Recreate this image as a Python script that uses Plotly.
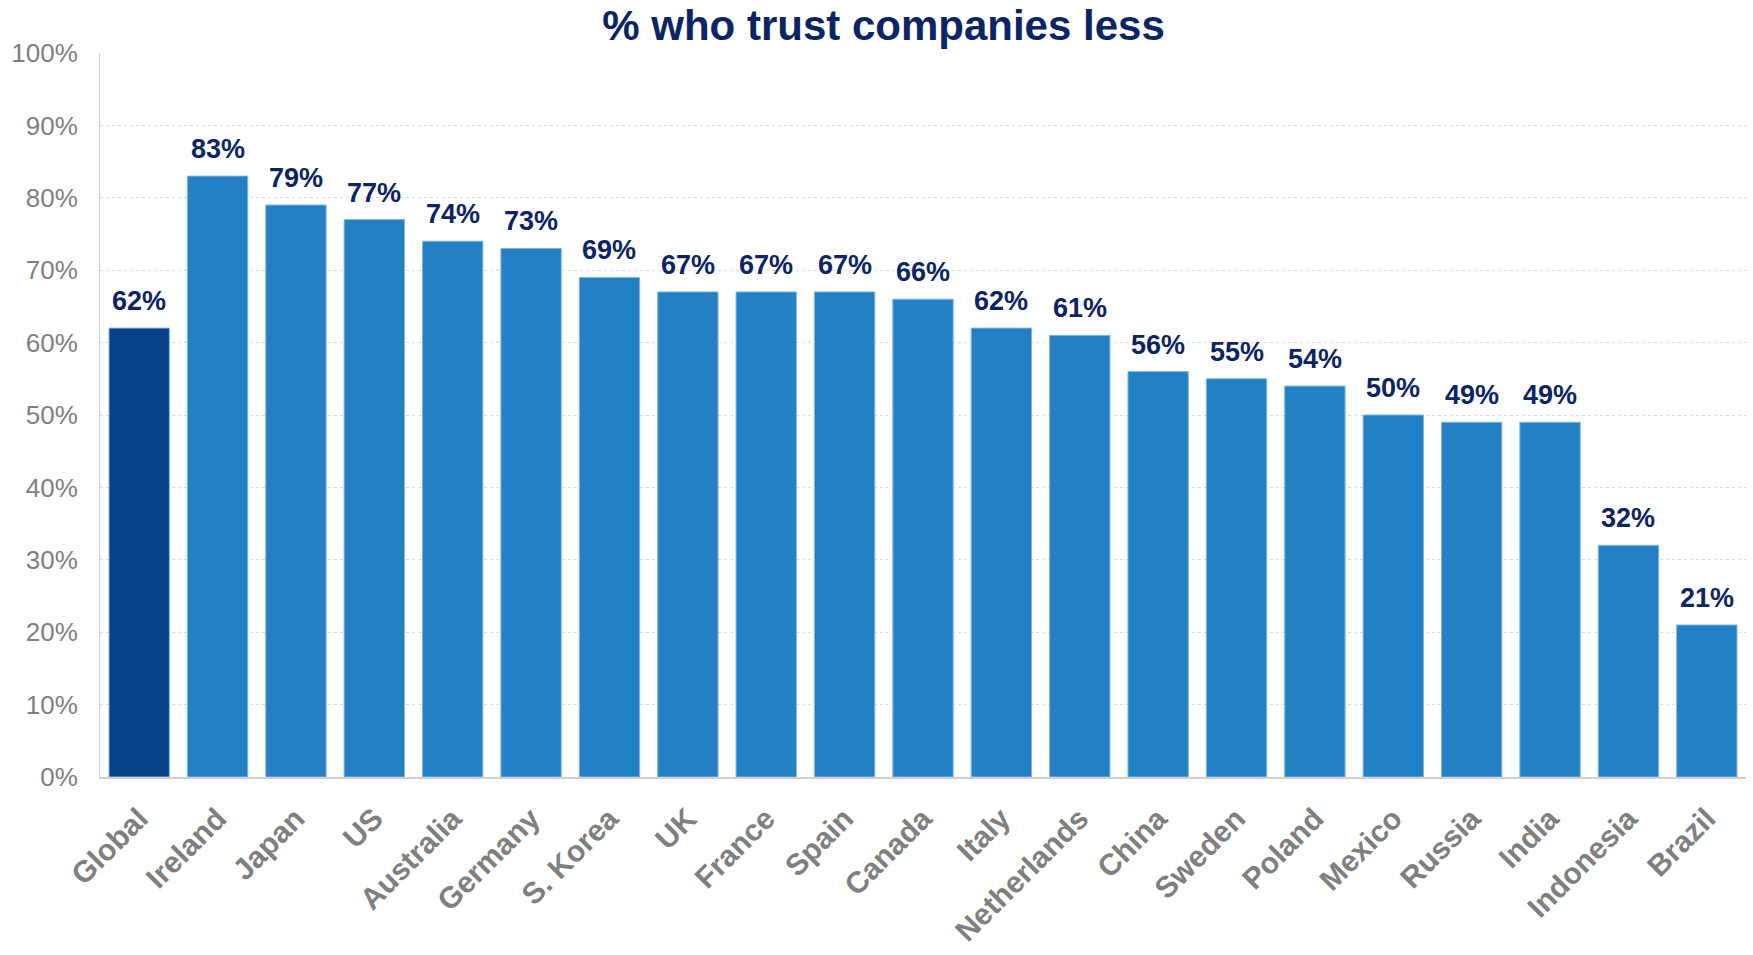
import plotly.graph_objects as go

countries = ["Global", "Ireland", "Japan", "US", "Australia", "Germany", "S. Korea", "UK",
             "France", "Spain", "Canada", "Italy", "Netherlands", "China", "Sweden", "Poland",
             "Mexico", "Russia", "India", "Indonesia", "Brazil"]
values = [62, 83, 79, 77, 74, 73, 69, 67, 67, 67, 66, 62, 61, 56, 55, 54, 50, 49, 49, 32, 21]
y_ticks = [0, 10, 20, 30, 40, 50, 60, 70, 80, 90, 100]
y_tick_labels = [f"{v}%" for v in y_ticks]

NAVY = "#0b2464"
DARK = "#07418a"
MID = "#2380c4"
GRAY = "#7f7f7f"
FONT = "Liberation Sans, Arial, sans-serif"

colors = [DARK if c == "Global" else MID for c in countries]

fig = go.Figure()
fig.add_trace(go.Bar(
    x=countries, y=values,
    marker=dict(color=colors, line=dict(color="#7fb6e2", width=1)),
    hoverinfo="skip",
))

for c, v in zip(countries, values):
    fig.add_annotation(x=c, y=v, text=f"<b>{v}%</b>", showarrow=False,
                       yanchor="bottom", yshift=10,
                       font=dict(family=FONT, size=27, color=NAVY))

fig.update_layout(
    width=1753, height=955,
    margin=dict(l=100, r=7, t=53, b=178, autoexpand=False),
    paper_bgcolor="white", plot_bgcolor="white",
    bargap=0.23,
    showlegend=False,
    title=dict(text="<b>% who trust companies less</b>", x=0.504, xref="container", xanchor="center",
               y=1 - 25 / 955, yref="container", yanchor="middle",
               font=dict(family=FONT, size=42, color=NAVY)),
    font=dict(family=FONT),
)
fig.update_yaxes(
    range=[0, 100], tickvals=y_ticks, ticktext=y_tick_labels,
    showgrid=True, gridcolor="#d9d9d9", griddash="dot", gridwidth=1,
    showline=True, linecolor="#d0d0d0", linewidth=1,
    ticks="", ticklabelstandoff=16, automargin=False,
    tickfont=dict(family=FONT, size=26, color=GRAY),
    zeroline=False, fixedrange=True,
)
fig.update_xaxes(
    showline=True, linecolor="#d0d0d0", linewidth=2,
    tickangle=-45, ticks="", ticklabelstandoff=10, automargin=False,
    tickfont=dict(family=FONT, size=30, color=GRAY, weight="bold"),
    fixedrange=True,
)

fig.write_html("out.html")
